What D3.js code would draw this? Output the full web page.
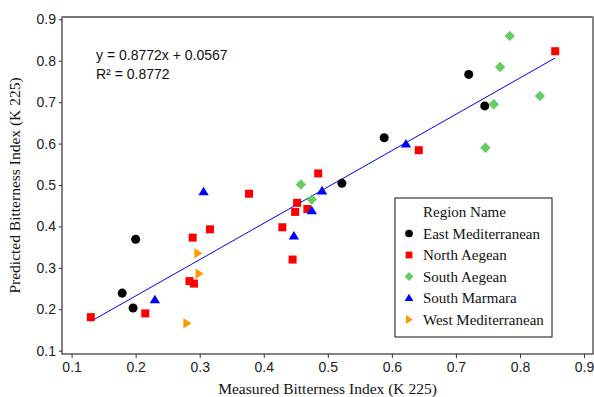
<!DOCTYPE html>
<html lang="en">
<head>
    <meta charset="UTF-8">
    <title>Measured vs Predicted Bitterness Index</title>
    <script src="https://d3js.org/d3.v7.min.js"></script>
    <style>
        body { margin: 0; background: #fff; }
        .tick text { font-family: "Liberation Sans", Arial, sans-serif; font-size: 14px; fill: #222; }
        .tick line { stroke: #333; }
        .axis-title, .legend text { font-family: "Liberation Serif", "Times New Roman", serif; fill: #111; }
        .eq { font-family: "Liberation Sans", Arial, sans-serif; font-size: 14px; fill: #111; }
    </style>
</head>
<body>
    <svg width="594" height="397"></svg>
    <script>
        const width = 594;
        const height = 397;

        // tick labels
        const tickValues = [0.1, 0.2, 0.3, 0.4, 0.5, 0.6, 0.7, 0.8, 0.9];

        // regions: [measured, predicted]
        const eastMed = [[0.179, 0.239], [0.196, 0.203], [0.200, 0.369], [0.522, 0.504],
            [0.588, 0.614], [0.720, 0.767], [0.745, 0.691]];
        const northAegean = [[0.130, 0.181], [0.215, 0.190], [0.284, 0.268], [0.291, 0.262],
            [0.289, 0.373], [0.316, 0.393], [0.377, 0.479], [0.429, 0.398], [0.445, 0.320],
            [0.449, 0.435], [0.452, 0.457], [0.468, 0.442], [0.485, 0.528], [0.642, 0.584],
            [0.855, 0.823]];
        const southAegean = [[0.458, 0.501], [0.475, 0.465], [0.746, 0.590], [0.759, 0.695],
            [0.769, 0.785], [0.784, 0.860], [0.831, 0.715]];
        const southMarmara = [[0.230, 0.223], [0.306, 0.484], [0.447, 0.377], [0.475, 0.438],
            [0.491, 0.486], [0.622, 0.599]];
        const westMed = [[0.280, 0.166], [0.297, 0.335], [0.299, 0.286]];

        const slope = 0.8772;
        const intercept = 0.0567;

        const series = [
            { name: "East Mediterranean", data: eastMed, color: "#000000", shape: "circle" },
            { name: "North Aegean", data: northAegean, color: "#ff0000", shape: "square" },
            { name: "South Aegean", data: southAegean, color: "#66cc66", shape: "diamond" },
            { name: "South Marmara", data: southMarmara, color: "#0000ff", shape: "triangle" },
            { name: "West Mediterranean", data: westMed, color: "#ff9900", shape: "right" }
        ];

        const svg = d3.select("svg");

        const plotLeft = 62, plotRight = 593, plotTop = 17, plotBottom = 354;
        const x = d3.scaleLinear().domain([0.085, 0.914]).range([plotLeft, plotRight]);
        const y = d3.scaleLinear().domain([0.092, 0.9056]).range([plotBottom, plotTop]);

        // формы маркеров
        function markerPath(shape) {
            if (shape === "circle") return d3.symbol().type(d3.symbolCircle).size(64)();
            if (shape === "square") return "M -4,-4 L 4,-4 L 4,4 L -4,4 Z";
            if (shape === "diamond") return "M 0,-5.2 L 5.2,0 L 0,5.2 L -5.2,0 Z";
            if (shape === "triangle") return "M 0,-5 L 5.2,3.6 L -5.2,3.6 Z";
            return "M -3.5,-5.2 L 4.6,0 L -3.5,5.2 Z";
        }

        // оси
        svg.append("g")
            .attr("transform", `translate(0,${plotBottom})`)
            .call(d3.axisBottom(x).tickValues(tickValues).tickSize(4).tickPadding(4).tickFormat(d3.format(".1f")))
            .call(g => g.select(".domain").remove());

        svg.append("g")
            .attr("transform", `translate(${plotLeft},0)`)
            .call(d3.axisLeft(y).tickValues(tickValues).tickSize(3).tickPadding(3).tickFormat(d3.format(".1f")))
            .call(g => g.select(".domain").remove());

        // рамка
        svg.append("rect")
            .attr("x", plotLeft).attr("y", plotTop)
            .attr("width", plotRight - plotLeft).attr("height", plotBottom - plotTop)
            .attr("fill", "none").attr("stroke", "#333").attr("stroke-width", 1.2);
        svg.append("line")
            .attr("x1", plotLeft).attr("x2", plotRight).attr("y1", plotTop).attr("y2", plotTop)
            .attr("stroke", "#777").attr("stroke-width", 2);

        // линия регрессии
        const allX = series.flatMap(s => s.data.map(d => d[0]));
        const xExt = d3.extent(allX);
        svg.append("line")
            .attr("x1", x(xExt[0])).attr("y1", y(slope * xExt[0] + intercept))
            .attr("x2", x(xExt[1])).attr("y2", y(slope * xExt[1] + intercept))
            .attr("stroke", "#0000ff").attr("stroke-width", 1);

        // точки
        series.forEach(s => {
            svg.append("g")
                .selectAll("path")
                .data(s.data)
                .enter().append("path")
                .attr("d", markerPath(s.shape))
                .attr("fill", s.color)
                .attr("transform", d => `translate(${x(d[0])},${y(d[1])})`);
        });

        // уравнение
        svg.append("text").attr("class", "eq").attr("x", 96).attr("y", 60)
            .text(`y = ${slope}x + ${intercept}`);
        svg.append("text").attr("class", "eq").attr("x", 96).attr("y", 79)
            .text(`R² = ${slope}`);

        // подписи осей
        svg.append("text").attr("class", "axis-title")
            .attr("x", (plotLeft + plotRight) / 2).attr("y", 394)
            .attr("text-anchor", "middle").attr("font-size", 15.5)
            .text("Measured Bitterness Index (K 225)");
        svg.append("text").attr("class", "axis-title")
            .attr("transform", `translate(20,${(plotTop + plotBottom) / 2}) rotate(-90)`)
            .attr("text-anchor", "middle").attr("font-size", 15.5)
            .text("Predicted Bitterness Index (K 225)");

        // легенда
        const legend = svg.append("g").attr("class", "legend");
        legend.append("rect")
            .attr("x", 395).attr("y", 198).attr("width", 157).attr("height", 139)
            .attr("fill", "#fff").attr("stroke", "#111").attr("stroke-width", 1);
        legend.append("text").attr("x", 423).attr("y", 217).attr("font-size", 15).text("Region Name");
        series.forEach((s, i) => {
            const cy = 233.5 + i * 21.5;
            legend.append("path")
                .attr("d", markerPath(s.shape))
                .attr("fill", s.color)
                .attr("transform", `translate(409,${cy}) scale(0.85)`);
            legend.append("text").attr("x", 423).attr("y", cy + 5).attr("font-size", 15).text(s.name);
        });
    </script>
</body>
</html>
